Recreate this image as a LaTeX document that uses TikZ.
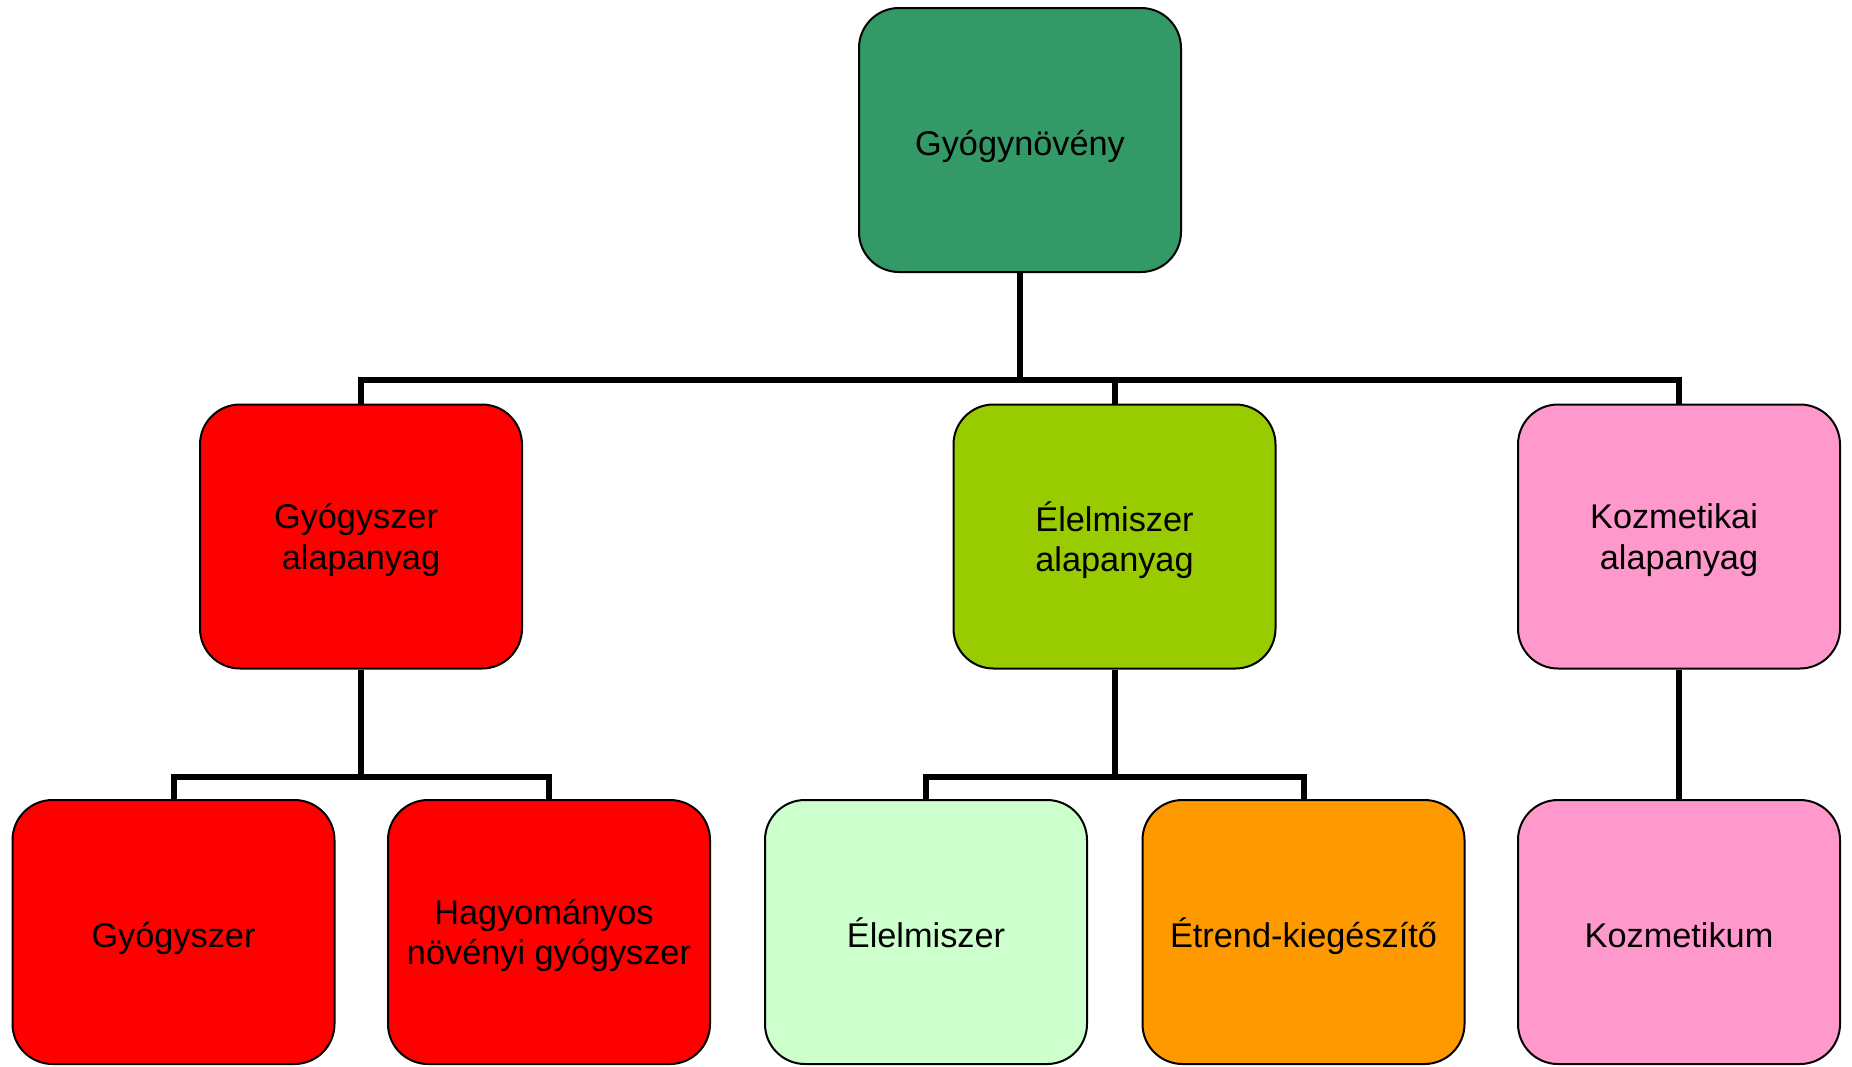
\documentclass[tikz,border=0pt]{standalone}
\usepackage{fontspec}
\setmainfont{Liberation Sans}
\definecolor{rootgreen}{HTML}{339966}
\definecolor{boxred}{HTML}{FF0000}
\definecolor{boxlime}{HTML}{99CC00}
\definecolor{boxpink}{HTML}{FF99CC}
\definecolor{boxlightgreen}{HTML}{CCFFCC}
\definecolor{boxorange}{HTML}{FF9900}
\begin{document}
\begin{tikzpicture}[x=1pt,y=-1pt,
  box/.style={draw=black, line width=2pt, rectangle, rounded corners=40pt,
    minimum width=322pt, minimum height=264pt, inner sep=0pt, align=center,
    font=\fontsize{34.3}{40.5}\selectfont, text=black, text depth=0pt},
  oneline/.style={text height=30.5pt},
  conn/.style={draw=black, line width=6pt, line join=miter}]
\useasboundingbox (0,0) rectangle (1852,1066);
% level 1
\node[box, oneline, fill=rootgreen] (root) at (1020,140) {Gyógynövény};
% level 2
\node[box, fill=boxred] (g2) at (361,536.5) {Gyógyszer\hspace*{10pt}\\alapanyag};
\node[box, fill=boxlime] (e2) at (1114.5,536.5) {Élelmiszer\\alapanyag};
\node[box, fill=boxpink] (k2) at (1679,536.5) {Kozmetikai\hspace*{10pt}\\alapanyag};
% level 3
\node[box, oneline, fill=boxred] (g3) at (173.5,932) {Gyógyszer};
\node[box, fill=boxred] (h3) at (549,932) {Hagyományos\hspace*{10pt}\\növényi gyógyszer};
\node[box, oneline, fill=boxlightgreen] (el3) at (926,932) {Élelmiszer};
\node[box, oneline, fill=boxorange] (et3) at (1303.5,932) {Étrend-kiegészítő};
\node[box, oneline, fill=boxpink] (k3) at (1679,932) {Kozmetikum};
% connectors
\coordinate (b1) at (1020,380);
\coordinate (b2) at (361,777);
\coordinate (b3) at (1114.5,777);
\draw[conn] (root.south) -- (b1);
\draw[conn] (g2.north) -- (g2.north |- b1) -- (k2.north |- b1) -- (k2.north);
\draw[conn] (e2.north) -- (e2.north |- b1);
\draw[conn] (g2.south) -- (b2);
\draw[conn] (g3.north) -- (g3.north |- b2) -- (h3.north |- b2) -- (h3.north);
\draw[conn] (e2.south) -- (b3);
\draw[conn] (el3.north) -- (el3.north |- b3) -- (et3.north |- b3) -- (et3.north);
\draw[conn] (k2.south) -- (k3.north);
\end{tikzpicture}
\end{document}
